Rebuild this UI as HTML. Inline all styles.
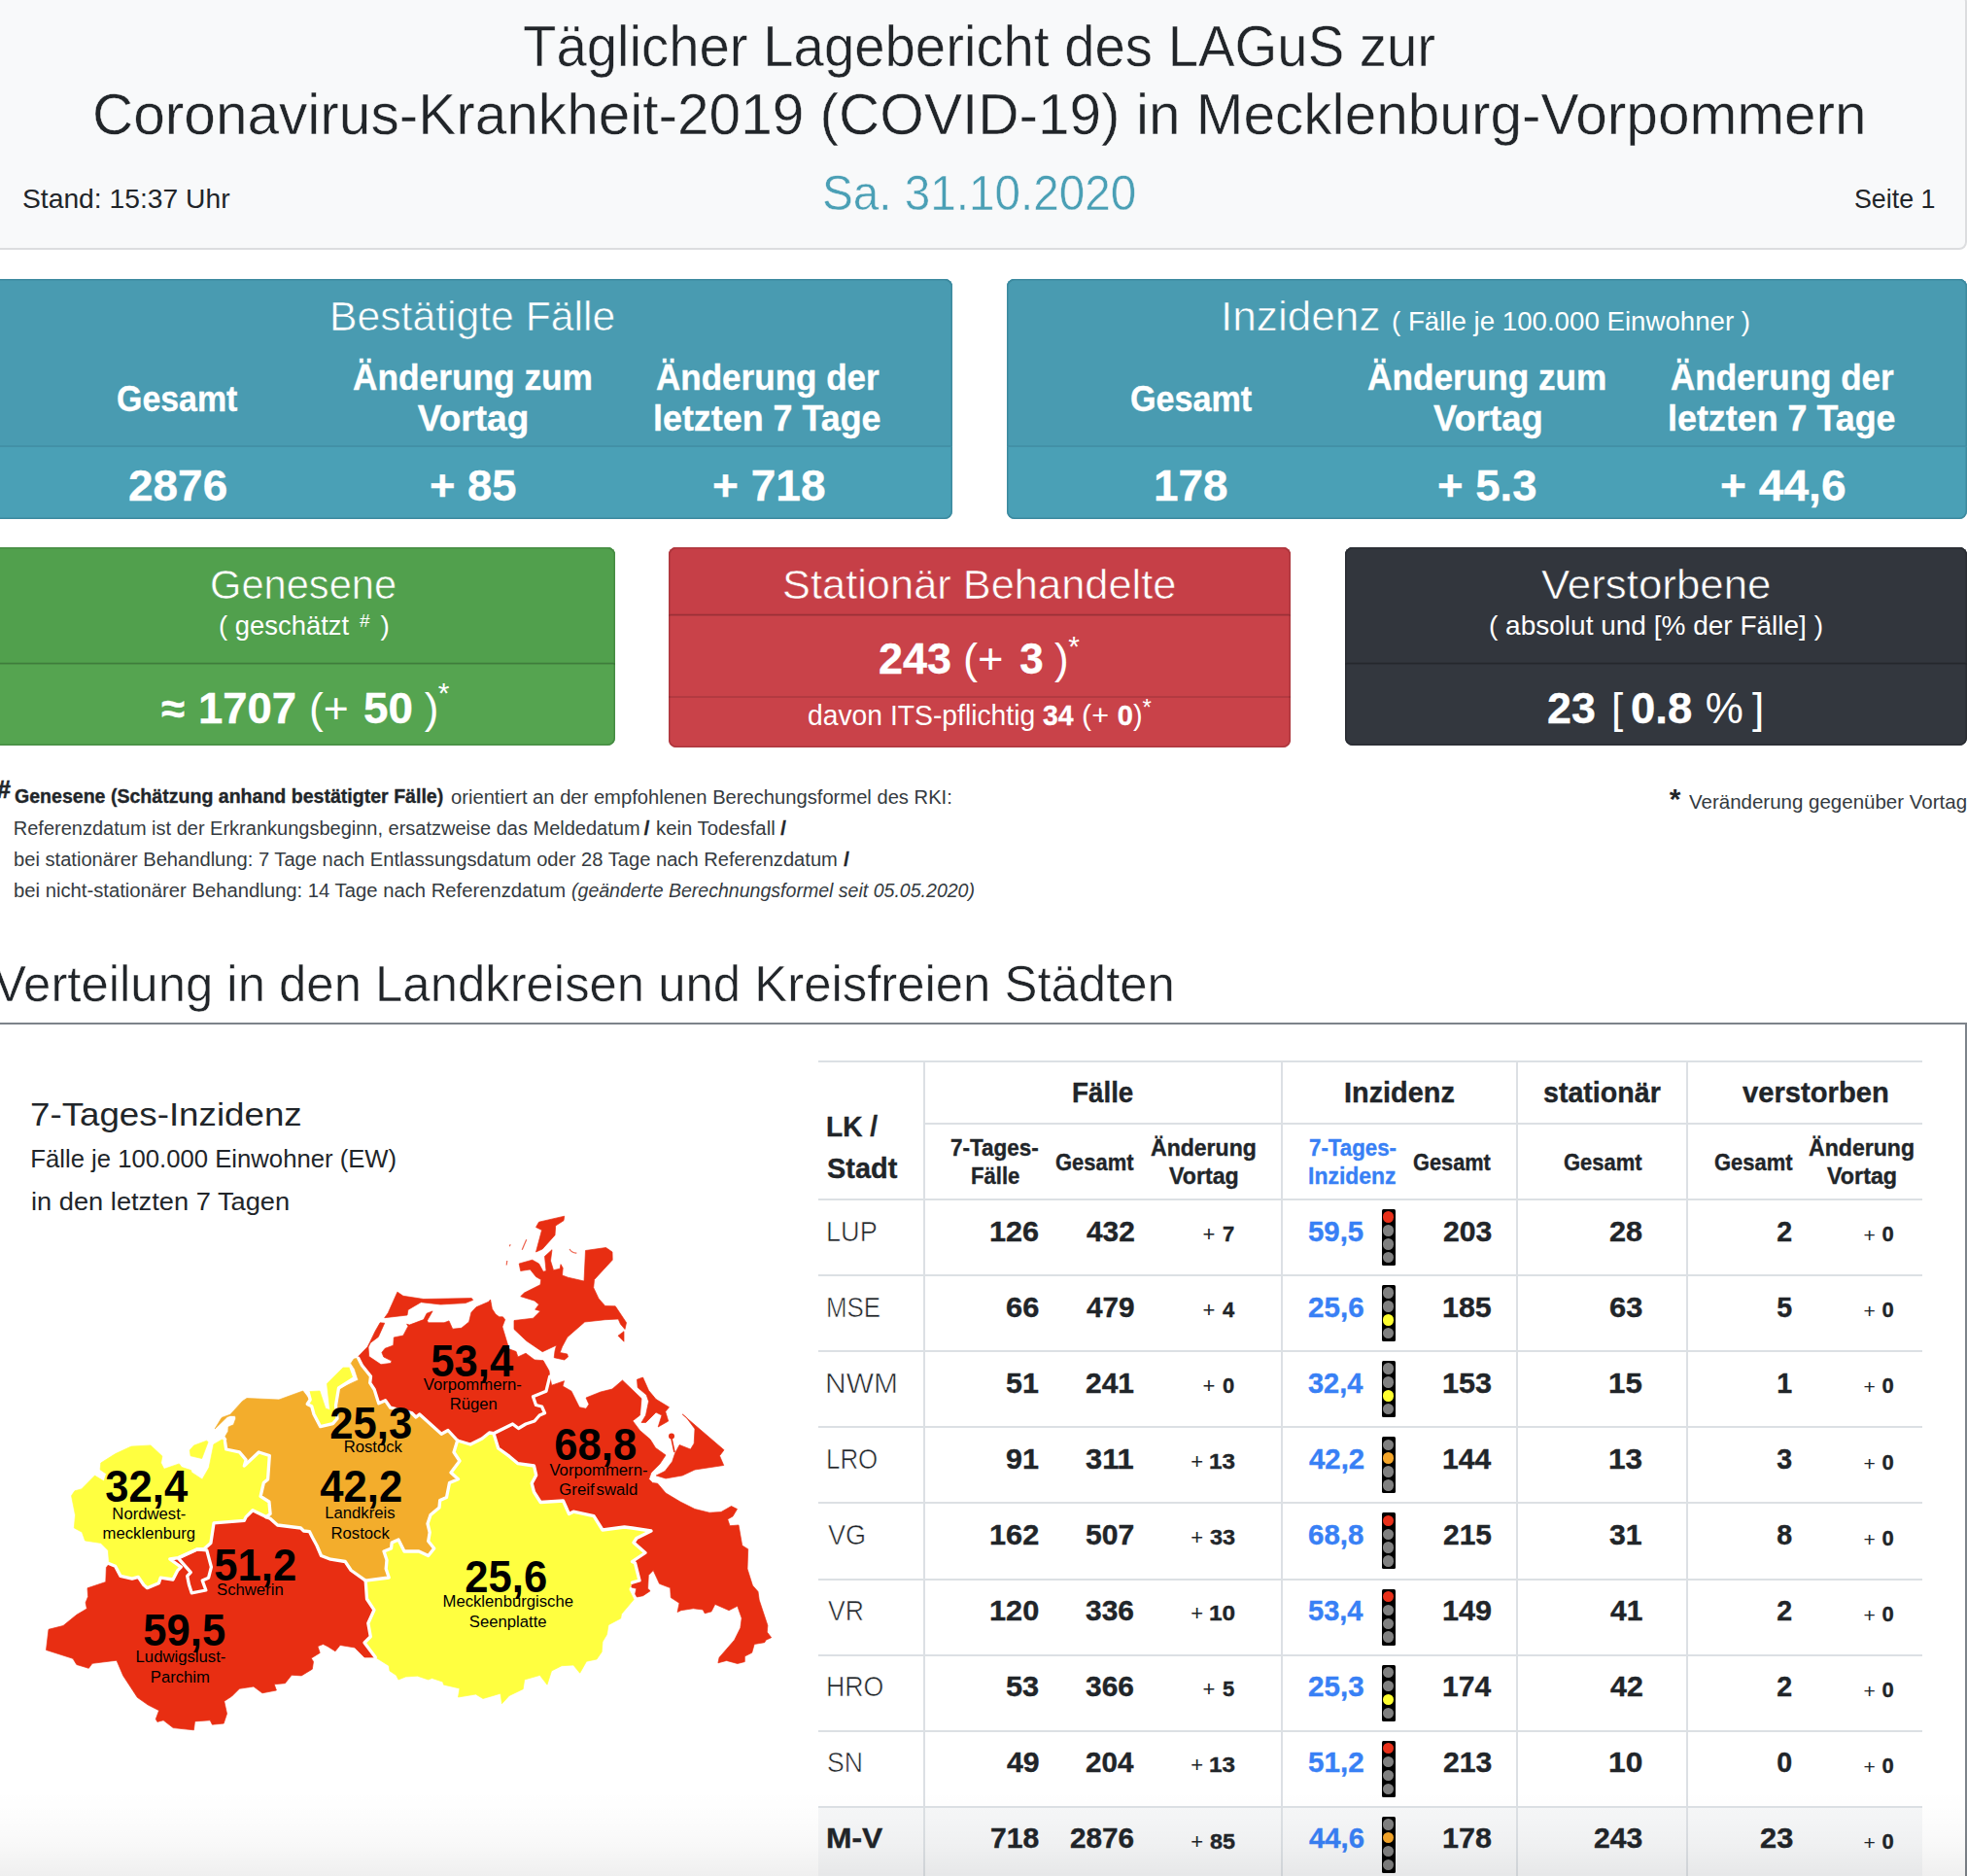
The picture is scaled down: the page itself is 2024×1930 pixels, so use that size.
<!DOCTYPE html>
<html lang="de"><head><meta charset="utf-8"><title>Lagebericht</title>
<style>
html,body{margin:0;padding:0;background:#fff;}
body{width:2024px;height:1930px;position:relative;overflow:hidden;font-family:"Liberation Sans",sans-serif;}
.t{position:absolute;white-space:nowrap;line-height:1;transform-origin:0 50%;}
</style></head><body>
<div style="position:absolute;left:-8.00px;top:-6.00px;width:2031.50px;height:262.50px;background:#f8f9fa;border:2px solid #dcdddf;border-radius:8px;box-sizing:border-box;"></div>
<div class="t" style="left:538.17px;top:18.95px;font-size:58.30px;transform:scaleX(0.9660);-webkit-text-stroke:0.50px #f8f9fa;color:#212529;">Täglicher Lagebericht des LAGuS zur</div>
<div class="t" style="left:94.77px;top:88.95px;font-size:58.30px;transform:scaleX(1.0044);-webkit-text-stroke:0.50px #f8f9fa;color:#212529;">Coronavirus-Krankheit-2019 (COVID-19) in Mecklenburg-Vorpommern</div>
<div class="t" style="left:846.16px;top:174.38px;font-size:50.00px;transform:scaleX(0.9527);-webkit-text-stroke:0.50px #f8f9fa;color:#4a9fb5;">Sa. 31.10.2020</div>
<div class="t" style="left:22.73px;top:191.30px;font-size:28.00px;transform:scaleX(1.0089);color:#212529;">Stand: 15:37 Uhr</div>
<div class="t" style="left:1908.09px;top:191.30px;font-size:28.00px;transform:scaleX(0.9567);color:#212529;">Seite 1</div>
<div style="position:absolute;left:-8.00px;top:286.50px;width:988.00px;height:247.00px;background:#4aa0b6;border-radius:8px;box-shadow:inset 0 0 0 1.5px #3d8a9f;"></div>
<div style="position:absolute;left:-8.00px;top:286.50px;width:988.00px;height:173.00px;background:#499bb1;border-radius:8px 8px 0 0;box-shadow:inset 0 0 0 1.5px #3d8a9f;"></div>
<div style="position:absolute;left:-8.00px;top:458.70px;width:988.00px;height:1.80px;background:#4290a6;"></div>
<div style="position:absolute;left:1035.70px;top:286.50px;width:988.00px;height:247.00px;background:#4aa0b6;border-radius:8px;box-shadow:inset 0 0 0 1.5px #3d8a9f;"></div>
<div style="position:absolute;left:1035.70px;top:286.50px;width:988.00px;height:173.00px;background:#499bb1;border-radius:8px 8px 0 0;box-shadow:inset 0 0 0 1.5px #3d8a9f;"></div>
<div style="position:absolute;left:1035.70px;top:458.70px;width:988.00px;height:1.80px;background:#4290a6;"></div>
<div class="t" style="left:339.28px;top:305.45px;font-size:42.00px;transform:scaleX(1.0164);-webkit-text-stroke:0.60px #499bb1;color:#fff;">Bestätigte Fälle</div>
<div class="t" style="left:120.34px;top:391.88px;font-size:37.00px;transform:scaleX(0.9166);font-weight:700;-webkit-text-stroke:0.35px;color:#fff;">Gesamt</div>
<div class="t" style="left:363.42px;top:369.88px;font-size:37.00px;transform:scaleX(0.9537);font-weight:700;-webkit-text-stroke:0.35px;color:#fff;">Änderung zum</div>
<div class="t" style="left:429.82px;top:411.68px;font-size:37.00px;font-weight:700;-webkit-text-stroke:0.35px;color:#fff;">Vortag</div>
<div class="t" style="left:675.12px;top:369.88px;font-size:37.00px;transform:scaleX(0.9471);font-weight:700;-webkit-text-stroke:0.35px;color:#fff;">Änderung der</div>
<div class="t" style="left:672.49px;top:411.68px;font-size:37.00px;transform:scaleX(0.9694);font-weight:700;-webkit-text-stroke:0.35px;color:#fff;">letzten 7 Tage</div>
<div class="t" style="left:131.69px;top:477.75px;font-size:44.00px;transform:scaleX(1.0441);font-weight:700;-webkit-text-stroke:0.35px;color:#fff;">2876</div>
<div class="t" style="left:442.48px;top:477.75px;font-size:44.00px;transform:scaleX(1.0317);font-weight:700;-webkit-text-stroke:0.35px;color:#fff;">+ 85</div>
<div class="t" style="left:733.16px;top:477.75px;font-size:44.00px;transform:scaleX(1.0467);font-weight:700;-webkit-text-stroke:0.35px;color:#fff;">+ 718</div>
<div class="t" style="left:1256.03px;top:305.45px;font-size:42.00px;transform:scaleX(1.0513);-webkit-text-stroke:0.60px #499bb1;color:#fff;">Inzidenz</div>
<div class="t" style="left:1431.64px;top:317.30px;font-size:28.00px;transform:scaleX(0.9880);color:#fff;">( Fälle je 100.000 Einwohner )</div>
<div class="t" style="left:1162.93px;top:391.88px;font-size:37.00px;transform:scaleX(0.9226);font-weight:700;-webkit-text-stroke:0.35px;color:#fff;">Gesamt</div>
<div class="t" style="left:1406.82px;top:369.88px;font-size:37.00px;transform:scaleX(0.9509);font-weight:700;-webkit-text-stroke:0.35px;color:#fff;">Änderung zum</div>
<div class="t" style="left:1474.82px;top:411.68px;font-size:37.00px;transform:scaleX(0.9844);font-weight:700;-webkit-text-stroke:0.35px;color:#fff;">Vortag</div>
<div class="t" style="left:1718.82px;top:369.88px;font-size:37.00px;transform:scaleX(0.9471);font-weight:700;-webkit-text-stroke:0.35px;color:#fff;">Änderung der</div>
<div class="t" style="left:1716.19px;top:411.68px;font-size:37.00px;transform:scaleX(0.9694);font-weight:700;-webkit-text-stroke:0.35px;color:#fff;">letzten 7 Tage</div>
<div class="t" style="left:1187.25px;top:477.75px;font-size:44.00px;transform:scaleX(1.0433);font-weight:700;-webkit-text-stroke:0.35px;color:#fff;">178</div>
<div class="t" style="left:1479.18px;top:477.75px;font-size:44.00px;transform:scaleX(1.0345);font-weight:700;-webkit-text-stroke:0.35px;color:#fff;">+ 5.3</div>
<div class="t" style="left:1769.95px;top:477.75px;font-size:44.00px;transform:scaleX(1.0490);font-weight:700;-webkit-text-stroke:0.35px;color:#fff;">+ 44,6</div>
<div style="position:absolute;left:-8.00px;top:563.30px;width:640.50px;height:203.50px;background:#55a450;border-radius:8px;box-shadow:inset 0 0 0 1.5px #468c43;"></div>
<div style="position:absolute;left:-8.00px;top:563.30px;width:640.50px;height:119.40px;background:#51a04d;border-radius:8px 8px 0 0;box-shadow:inset 0 0 0 1.5px #468c43;"></div>
<div style="position:absolute;left:-8.00px;top:681.80px;width:640.50px;height:1.80px;background:rgba(0,0,0,0.11);"></div>
<div class="t" style="left:216.22px;top:581.15px;font-size:42.00px;transform:scaleX(0.9913);-webkit-text-stroke:0.60px #51a04d;color:#fff;">Genesene</div>
<div class="t" style="left:225.05px;top:629.60px;font-size:28.00px;transform:scaleX(0.9793);color:#fff;">( geschätzt</div>
<div class="t" style="left:370.00px;top:628.92px;font-size:19.00px;color:#fff;">#</div>
<div class="t" style="left:391.50px;top:629.60px;font-size:28.00px;color:#fff;">)</div>
<div class="t" style="left:166.00px;top:706.75px;font-size:44.00px;font-weight:700;-webkit-text-stroke:0.35px;color:#fff;">≈</div>
<div class="t" style="left:203.97px;top:706.75px;font-size:44.00px;transform:scaleX(1.0332);font-weight:700;-webkit-text-stroke:0.35px;color:#fff;">1707</div>
<div class="t" style="left:318.03px;top:706.75px;font-size:44.00px;transform:scaleX(1.0101);color:#fff;">(+</div>
<div class="t" style="left:374.33px;top:706.75px;font-size:44.00px;transform:scaleX(1.0402);font-weight:700;-webkit-text-stroke:0.35px;color:#fff;">50</div>
<div class="t" style="left:436.70px;top:706.75px;font-size:44.00px;color:#fff;">)</div>
<div class="t" style="left:450.70px;top:697.61px;font-size:30.00px;color:#fff;">*</div>
<div style="position:absolute;left:687.70px;top:563.30px;width:640.60px;height:206.00px;background:#c94249;border-radius:8px;box-shadow:inset 0 0 0 1.5px #ad373e;"></div>
<div style="position:absolute;left:687.70px;top:563.30px;width:640.60px;height:70.00px;background:#c63f47;border-radius:8px 8px 0 0;box-shadow:inset 0 0 0 1.5px #ad373e;"></div>
<div style="position:absolute;left:687.70px;top:632.40px;width:640.60px;height:1.80px;background:rgba(0,0,0,0.11);"></div>
<div style="position:absolute;left:687.70px;top:716.40px;width:640.60px;height:1.80px;background:rgba(0,0,0,0.11);"></div>
<div class="t" style="left:805.35px;top:581.15px;font-size:42.00px;transform:scaleX(1.0334);-webkit-text-stroke:0.60px #c63f47;color:#fff;">Stationär Behandelte</div>
<div class="t" style="left:904.43px;top:655.75px;font-size:44.00px;transform:scaleX(1.0217);font-weight:700;-webkit-text-stroke:0.35px;color:#fff;">243</div>
<div class="t" style="left:991.28px;top:655.75px;font-size:44.00px;transform:scaleX(1.0297);color:#fff;">(+</div>
<div class="t" style="left:1049.30px;top:655.75px;font-size:44.00px;font-weight:700;-webkit-text-stroke:0.35px;color:#fff;">3</div>
<div class="t" style="left:1085.00px;top:655.75px;font-size:44.00px;color:#fff;">)</div>
<div class="t" style="left:1099.30px;top:649.61px;font-size:30.00px;color:#fff;">*</div>
<div class="t" style="left:830.57px;top:722.15px;font-size:29.00px;transform:scaleX(0.9750);color:#fff;">davon ITS-pflichtig</div>
<div class="t" style="left:1072.99px;top:722.15px;font-size:29.00px;transform:scaleX(0.9770);font-weight:700;-webkit-text-stroke:0.35px;color:#fff;">34</div>
<div class="t" style="left:1113.17px;top:722.15px;font-size:29.00px;transform:scaleX(1.0515);color:#fff;">(+</div>
<div class="t" style="left:1149.70px;top:722.15px;font-size:29.00px;font-weight:700;-webkit-text-stroke:0.35px;color:#fff;">0</div>
<div class="t" style="left:1166.00px;top:722.15px;font-size:29.00px;color:#fff;">)</div>
<div class="t" style="left:1175.50px;top:715.68px;font-size:24.00px;color:#fff;">*</div>
<div style="position:absolute;left:1383.70px;top:563.30px;width:640.00px;height:203.50px;background:#33373e;border-radius:8px;box-shadow:inset 0 0 0 1.5px #2a2d33;"></div>
<div style="position:absolute;left:1383.70px;top:563.30px;width:640.00px;height:119.40px;background:#32363d;border-radius:8px 8px 0 0;box-shadow:inset 0 0 0 1.5px #2a2d33;"></div>
<div style="position:absolute;left:1383.70px;top:681.80px;width:640.00px;height:1.80px;background:rgba(0,0,0,0.11);"></div>
<div class="t" style="left:1586.08px;top:581.15px;font-size:42.00px;transform:scaleX(1.0441);-webkit-text-stroke:0.60px #32363d;color:#fff;">Verstorbene</div>
<div class="t" style="left:1532.02px;top:629.60px;font-size:28.00px;color:#fff;">( absolut und [% der Fälle] )</div>
<div class="t" style="left:1592.13px;top:706.75px;font-size:44.00px;transform:scaleX(1.0184);font-weight:700;-webkit-text-stroke:0.35px;color:#fff;">23</div>
<div class="t" style="left:1658.00px;top:706.75px;font-size:44.00px;color:#fff;">[</div>
<div class="t" style="left:1677.88px;top:706.75px;font-size:44.00px;transform:scaleX(1.0331);font-weight:700;-webkit-text-stroke:0.35px;color:#fff;">0.8</div>
<div class="t" style="left:1754.70px;top:706.75px;font-size:44.00px;color:#fff;">%</div>
<div class="t" style="left:1803.00px;top:706.75px;font-size:44.00px;color:#fff;">]</div>
<div class="t" style="left:-3.30px;top:800.41px;font-size:25.50px;font-weight:700;-webkit-text-stroke:0.60px;color:#212529;">#</div>
<div class="t" style="left:14.62px;top:808.85px;font-size:20.50px;transform:scaleX(0.9541);font-weight:700;-webkit-text-stroke:0.35px;color:#212529;">Genesene (Schätzung anhand bestätigter Fälle)</div>
<div class="t" style="left:464.19px;top:809.77px;font-size:20.00px;transform:scaleX(1.0086);color:#343a40;">orientiert an der empfohlenen Berechungsformel des RKI:</div>
<div class="t" style="left:13.81px;top:841.97px;font-size:20.00px;color:#343a40;">Referenzdatum ist der Erkrankungsbeginn, ersatzweise das Meldedatum</div>
<div class="t" style="left:662.70px;top:841.97px;font-size:20.00px;font-weight:700;-webkit-text-stroke:0.35px;color:#212529;">/</div>
<div class="t" style="left:675.38px;top:841.97px;font-size:20.00px;transform:scaleX(1.0152);color:#343a40;">kein Todesfall</div>
<div class="t" style="left:803.30px;top:841.97px;font-size:20.00px;font-weight:700;-webkit-text-stroke:0.35px;color:#212529;">/</div>
<div class="t" style="left:14.09px;top:874.17px;font-size:20.00px;transform:scaleX(1.0069);color:#343a40;">bei stationärer Behandlung: 7 Tage nach Entlassungsdatum oder 28 Tage nach Referenzdatum</div>
<div class="t" style="left:868.30px;top:874.17px;font-size:20.00px;font-weight:700;-webkit-text-stroke:0.35px;color:#212529;">/</div>
<div class="t" style="left:14.08px;top:906.37px;font-size:20.00px;transform:scaleX(1.0125);color:#343a40;">bei nicht-stationärer Behandlung: 14 Tage nach Referenzdatum</div>
<div class="t" style="left:588.42px;top:906.37px;font-size:20.00px;transform:scaleX(0.9771);font-style:italic;color:#343a40;">(geänderte Berechnungsformel seit 05.05.2020)</div>
<div class="t" style="left:1717.70px;top:807.11px;font-size:30.00px;font-weight:700;color:#212529;">*</div>
<div class="t" style="left:1737.90px;top:814.22px;font-size:21.00px;transform:scaleX(0.9760);color:#343a40;">Veränderung gegenüber Vortag</div>
<div class="t" style="left:-6.75px;top:985.98px;font-size:52.00px;transform:scaleX(0.9781);-webkit-text-stroke:0.50px #fff;color:#212529;">Verteilung in den Landkreisen und Kreisfreien Städten</div>
<div style="position:absolute;left:-8.00px;top:1052.30px;width:2031.60px;height:900.00px;border:2px solid #7d838a;box-sizing:border-box;background:#fff;"></div>
<div class="t" style="left:31.46px;top:1128.92px;font-size:34.00px;transform:scaleX(1.0802);color:#212529;">7-Tages-Inzidenz</div>
<div class="t" style="left:31.24px;top:1179.94px;font-size:25.70px;color:#212529;">Fälle je 100.000 Einwohner (EW)</div>
<div class="t" style="left:31.53px;top:1224.24px;font-size:25.70px;transform:scaleX(1.0609);color:#212529;">in den letzten 7 Tagen</div>
<div style="position:absolute;left:841.70px;top:1858.80px;width:1136.30px;height:80.00px;background:#f6f7f8;"></div>
<div style="position:absolute;left:841.70px;top:1091.00px;width:1136.30px;height:2.00px;background:#dce0e4;"></div>
<div style="position:absolute;left:951.00px;top:1155.00px;width:1027.00px;height:2.00px;background:#dce0e4;"></div>
<div style="position:absolute;left:841.70px;top:1233.00px;width:1136.30px;height:2.00px;background:#dce0e4;"></div>
<div style="position:absolute;left:841.70px;top:1311.00px;width:1136.30px;height:2.00px;background:#dce0e4;"></div>
<div style="position:absolute;left:841.70px;top:1389.00px;width:1136.30px;height:2.00px;background:#dce0e4;"></div>
<div style="position:absolute;left:841.70px;top:1467.00px;width:1136.30px;height:2.00px;background:#dce0e4;"></div>
<div style="position:absolute;left:841.70px;top:1545.00px;width:1136.30px;height:2.00px;background:#dce0e4;"></div>
<div style="position:absolute;left:841.70px;top:1624.00px;width:1136.30px;height:2.00px;background:#dce0e4;"></div>
<div style="position:absolute;left:841.70px;top:1702.00px;width:1136.30px;height:2.00px;background:#dce0e4;"></div>
<div style="position:absolute;left:841.70px;top:1780.00px;width:1136.30px;height:2.00px;background:#dce0e4;"></div>
<div style="position:absolute;left:841.70px;top:1858.00px;width:1136.30px;height:2.00px;background:#dce0e4;"></div>
<div style="position:absolute;left:950.00px;top:1091.00px;width:2.00px;height:850.00px;background:#dce0e4;"></div>
<div style="position:absolute;left:1318.00px;top:1091.00px;width:2.00px;height:850.00px;background:#dce0e4;"></div>
<div style="position:absolute;left:1560.00px;top:1091.00px;width:2.00px;height:850.00px;background:#dce0e4;"></div>
<div style="position:absolute;left:1735.00px;top:1091.00px;width:2.00px;height:850.00px;background:#dce0e4;"></div>
<div class="t" style="left:849.87px;top:1145.09px;font-size:28.60px;transform:scaleX(0.9825);font-weight:700;-webkit-text-stroke:0.35px;color:#212529;">LK /</div>
<div class="t" style="left:850.83px;top:1188.49px;font-size:28.60px;transform:scaleX(1.0112);font-weight:700;-webkit-text-stroke:0.35px;color:#212529;">Stadt</div>
<div class="t" style="left:1103.49px;top:1110.09px;font-size:28.60px;transform:scaleX(0.9713);font-weight:700;-webkit-text-stroke:0.35px;color:#212529;">Fälle</div>
<div class="t" style="left:1382.82px;top:1110.09px;font-size:28.60px;transform:scaleX(1.0094);font-weight:700;-webkit-text-stroke:0.35px;color:#212529;">Inzidenz</div>
<div class="t" style="left:1588.00px;top:1110.09px;font-size:28.60px;font-weight:700;-webkit-text-stroke:0.35px;color:#212529;">stationär</div>
<div class="t" style="left:1792.85px;top:1110.09px;font-size:28.60px;transform:scaleX(1.0205);font-weight:700;-webkit-text-stroke:0.35px;color:#212529;">verstorben</div>
<div class="t" style="left:978.40px;top:1169.15px;font-size:23.80px;transform:scaleX(0.9443);font-weight:700;-webkit-text-stroke:0.35px;color:#212529;">7-Tages-</div>
<div class="t" style="left:998.56px;top:1197.55px;font-size:23.80px;transform:scaleX(0.9288);font-weight:700;-webkit-text-stroke:0.35px;color:#212529;">Fälle</div>
<div class="t" style="left:1085.82px;top:1183.85px;font-size:23.80px;transform:scaleX(0.9217);font-weight:700;-webkit-text-stroke:0.35px;color:#212529;">Gesamt</div>
<div class="t" style="left:1183.72px;top:1169.15px;font-size:23.80px;transform:scaleX(0.9683);font-weight:700;-webkit-text-stroke:0.35px;color:#212529;">Änderung</div>
<div class="t" style="left:1202.58px;top:1197.55px;font-size:23.80px;transform:scaleX(0.9739);font-weight:700;-webkit-text-stroke:0.35px;color:#212529;">Vortag</div>
<div class="t" style="left:1346.81px;top:1169.15px;font-size:23.80px;transform:scaleX(0.9369);font-weight:700;-webkit-text-stroke:0.35px;color:#3880f5;">7-Tages-</div>
<div class="t" style="left:1346.21px;top:1197.55px;font-size:23.80px;transform:scaleX(0.9649);font-weight:700;-webkit-text-stroke:0.35px;color:#3880f5;">Inzidenz</div>
<div class="t" style="left:1454.43px;top:1183.85px;font-size:23.80px;transform:scaleX(0.9147);font-weight:700;-webkit-text-stroke:0.35px;color:#212529;">Gesamt</div>
<div class="t" style="left:1609.42px;top:1183.85px;font-size:23.80px;transform:scaleX(0.9229);font-weight:700;-webkit-text-stroke:0.35px;color:#212529;">Gesamt</div>
<div class="t" style="left:1763.82px;top:1183.85px;font-size:23.80px;transform:scaleX(0.9217);font-weight:700;-webkit-text-stroke:0.35px;color:#212529;">Gesamt</div>
<div class="t" style="left:1861.42px;top:1169.15px;font-size:23.80px;transform:scaleX(0.9710);font-weight:700;-webkit-text-stroke:0.35px;color:#212529;">Änderung</div>
<div class="t" style="left:1880.18px;top:1197.55px;font-size:23.80px;transform:scaleX(0.9795);font-weight:700;-webkit-text-stroke:0.35px;color:#212529;">Vortag</div>
<div class="t" style="left:849.53px;top:1252.59px;font-size:28.60px;transform:scaleX(0.9497);-webkit-text-stroke:0.60px #fff;color:#212529;">LUP</div>
<div class="t" style="left:1018.42px;top:1252.59px;font-size:28.60px;transform:scaleX(1.0701);font-weight:700;-webkit-text-stroke:0.35px;color:#212529;">126</div>
<div class="t" style="left:1117.50px;top:1252.59px;font-size:28.60px;transform:scaleX(1.0435);font-weight:700;-webkit-text-stroke:0.35px;color:#212529;">432</div>
<div class="t" style="left:1257.98px;top:1258.78px;font-size:22.00px;font-weight:700;-webkit-text-stroke:0.35px;color:#212529;">7</div>
<div class="t" style="left:1237.48px;top:1258.78px;font-size:22.00px;color:#212529;">+</div>
<div class="t" style="left:1346.34px;top:1252.59px;font-size:28.60px;transform:scaleX(1.0265);font-weight:700;-webkit-text-stroke:0.35px;color:#3880f5;">59,5</div>
<div style="position:absolute;left:1421.50px;top:1244.00px;width:14.50px;height:58.00px;background:#000;border-radius:1.5px;"></div>
<div style="position:absolute;left:1422.85px;top:1246.25px;width:11.50px;height:11.50px;background:#e8301a;border-radius:50%;"></div>
<div style="position:absolute;left:1422.85px;top:1260.15px;width:11.50px;height:11.50px;background:#808080;border-radius:50%;"></div>
<div style="position:absolute;left:1422.85px;top:1274.05px;width:11.50px;height:11.50px;background:#808080;border-radius:50%;"></div>
<div style="position:absolute;left:1422.85px;top:1287.95px;width:11.50px;height:11.50px;background:#808080;border-radius:50%;"></div>
<div class="t" style="left:1484.60px;top:1252.59px;font-size:28.60px;transform:scaleX(1.0533);font-weight:700;-webkit-text-stroke:0.35px;color:#212529;">203</div>
<div class="t" style="left:1655.90px;top:1252.59px;font-size:28.60px;transform:scaleX(1.0718);font-weight:700;-webkit-text-stroke:0.35px;color:#212529;">28</div>
<div class="t" style="left:1828.18px;top:1252.59px;font-size:28.60px;font-weight:700;-webkit-text-stroke:0.35px;color:#212529;">2</div>
<div class="t" style="left:1936.48px;top:1259.48px;font-size:22.00px;font-weight:700;-webkit-text-stroke:0.35px;color:#212529;">0</div>
<div class="t" style="left:1917.50px;top:1260.32px;font-size:21.00px;color:#212529;">+</div>
<div class="t" style="left:849.63px;top:1330.59px;font-size:28.60px;transform:scaleX(0.9062);-webkit-text-stroke:0.60px #fff;color:#212529;">MSE</div>
<div class="t" style="left:1035.19px;top:1330.59px;font-size:28.60px;transform:scaleX(1.0769);font-weight:700;-webkit-text-stroke:0.35px;color:#212529;">66</div>
<div class="t" style="left:1117.51px;top:1330.59px;font-size:28.60px;transform:scaleX(1.0402);font-weight:700;-webkit-text-stroke:0.35px;color:#212529;">479</div>
<div class="t" style="left:1257.98px;top:1336.78px;font-size:22.00px;font-weight:700;-webkit-text-stroke:0.35px;color:#212529;">4</div>
<div class="t" style="left:1237.48px;top:1336.78px;font-size:22.00px;color:#212529;">+</div>
<div class="t" style="left:1346.18px;top:1330.59px;font-size:28.60px;transform:scaleX(1.0347);font-weight:700;-webkit-text-stroke:0.35px;color:#3880f5;">25,6</div>
<div style="position:absolute;left:1421.50px;top:1322.00px;width:14.50px;height:58.00px;background:#000;border-radius:1.5px;"></div>
<div style="position:absolute;left:1422.85px;top:1324.25px;width:11.50px;height:11.50px;background:#808080;border-radius:50%;"></div>
<div style="position:absolute;left:1422.85px;top:1338.15px;width:11.50px;height:11.50px;background:#808080;border-radius:50%;"></div>
<div style="position:absolute;left:1422.85px;top:1352.05px;width:11.50px;height:11.50px;background:#ffff30;border-radius:50%;"></div>
<div style="position:absolute;left:1422.85px;top:1365.95px;width:11.50px;height:11.50px;background:#808080;border-radius:50%;"></div>
<div class="t" style="left:1483.83px;top:1330.59px;font-size:28.60px;transform:scaleX(1.0633);font-weight:700;-webkit-text-stroke:0.35px;color:#212529;">185</div>
<div class="t" style="left:1655.89px;top:1330.59px;font-size:28.60px;transform:scaleX(1.0769);font-weight:700;-webkit-text-stroke:0.35px;color:#212529;">63</div>
<div class="t" style="left:1828.18px;top:1330.59px;font-size:28.60px;font-weight:700;-webkit-text-stroke:0.35px;color:#212529;">5</div>
<div class="t" style="left:1936.48px;top:1337.48px;font-size:22.00px;font-weight:700;-webkit-text-stroke:0.35px;color:#212529;">0</div>
<div class="t" style="left:1917.50px;top:1338.32px;font-size:21.00px;color:#212529;">+</div>
<div class="t" style="left:849.30px;top:1408.59px;font-size:28.60px;transform:scaleX(1.0482);-webkit-text-stroke:0.60px #fff;color:#212529;">NWM</div>
<div class="t" style="left:1035.36px;top:1408.59px;font-size:28.60px;transform:scaleX(1.0616);font-weight:700;-webkit-text-stroke:0.35px;color:#212529;">51</div>
<div class="t" style="left:1116.90px;top:1408.59px;font-size:28.60px;transform:scaleX(1.0467);font-weight:700;-webkit-text-stroke:0.35px;color:#212529;">241</div>
<div class="t" style="left:1257.98px;top:1414.78px;font-size:22.00px;font-weight:700;-webkit-text-stroke:0.35px;color:#212529;">0</div>
<div class="t" style="left:1237.48px;top:1414.78px;font-size:22.00px;color:#212529;">+</div>
<div class="t" style="left:1346.49px;top:1408.59px;font-size:28.60px;transform:scaleX(1.0131);font-weight:700;-webkit-text-stroke:0.35px;color:#3880f5;">32,4</div>
<div style="position:absolute;left:1421.50px;top:1400.00px;width:14.50px;height:58.00px;background:#000;border-radius:1.5px;"></div>
<div style="position:absolute;left:1422.85px;top:1402.25px;width:11.50px;height:11.50px;background:#808080;border-radius:50%;"></div>
<div style="position:absolute;left:1422.85px;top:1416.15px;width:11.50px;height:11.50px;background:#808080;border-radius:50%;"></div>
<div style="position:absolute;left:1422.85px;top:1430.05px;width:11.50px;height:11.50px;background:#ffff30;border-radius:50%;"></div>
<div style="position:absolute;left:1422.85px;top:1443.95px;width:11.50px;height:11.50px;background:#808080;border-radius:50%;"></div>
<div class="t" style="left:1483.82px;top:1408.59px;font-size:28.60px;transform:scaleX(1.0701);font-weight:700;-webkit-text-stroke:0.35px;color:#212529;">153</div>
<div class="t" style="left:1655.09px;top:1408.59px;font-size:28.60px;transform:scaleX(1.0927);font-weight:700;-webkit-text-stroke:0.35px;color:#212529;">15</div>
<div class="t" style="left:1828.18px;top:1408.59px;font-size:28.60px;font-weight:700;-webkit-text-stroke:0.35px;color:#212529;">1</div>
<div class="t" style="left:1936.48px;top:1415.48px;font-size:22.00px;font-weight:700;-webkit-text-stroke:0.35px;color:#212529;">0</div>
<div class="t" style="left:1917.50px;top:1416.32px;font-size:21.00px;color:#212529;">+</div>
<div class="t" style="left:849.63px;top:1486.89px;font-size:28.60px;transform:scaleX(0.9058);-webkit-text-stroke:0.60px #fff;color:#212529;">LRO</div>
<div class="t" style="left:1035.20px;top:1486.89px;font-size:28.60px;transform:scaleX(1.0667);font-weight:700;-webkit-text-stroke:0.35px;color:#212529;">91</div>
<div class="t" style="left:1117.18px;top:1486.89px;font-size:28.60px;transform:scaleX(1.0769);font-weight:700;-webkit-text-stroke:0.35px;color:#212529;">311</div>
<div class="t" style="left:1244.20px;top:1493.08px;font-size:22.00px;transform:scaleX(1.1034);font-weight:700;-webkit-text-stroke:0.35px;color:#212529;">13</div>
<div class="t" style="left:1225.16px;top:1493.08px;font-size:22.00px;color:#212529;">+</div>
<div class="t" style="left:1346.78px;top:1486.89px;font-size:28.60px;transform:scaleX(1.0265);font-weight:700;-webkit-text-stroke:0.35px;color:#3880f5;">42,2</div>
<div style="position:absolute;left:1421.50px;top:1478.30px;width:14.50px;height:58.00px;background:#000;border-radius:1.5px;"></div>
<div style="position:absolute;left:1422.85px;top:1480.55px;width:11.50px;height:11.50px;background:#808080;border-radius:50%;"></div>
<div style="position:absolute;left:1422.85px;top:1494.45px;width:11.50px;height:11.50px;background:#f5a62a;border-radius:50%;"></div>
<div style="position:absolute;left:1422.85px;top:1508.35px;width:11.50px;height:11.50px;background:#808080;border-radius:50%;"></div>
<div style="position:absolute;left:1422.85px;top:1522.25px;width:11.50px;height:11.50px;background:#808080;border-radius:50%;"></div>
<div class="t" style="left:1483.85px;top:1486.89px;font-size:28.60px;transform:scaleX(1.0500);font-weight:700;-webkit-text-stroke:0.35px;color:#212529;">144</div>
<div class="t" style="left:1655.07px;top:1486.89px;font-size:28.60px;transform:scaleX(1.1034);font-weight:700;-webkit-text-stroke:0.35px;color:#212529;">13</div>
<div class="t" style="left:1828.18px;top:1486.89px;font-size:28.60px;font-weight:700;-webkit-text-stroke:0.35px;color:#212529;">3</div>
<div class="t" style="left:1936.48px;top:1493.78px;font-size:22.00px;font-weight:700;-webkit-text-stroke:0.35px;color:#212529;">0</div>
<div class="t" style="left:1917.50px;top:1494.62px;font-size:21.00px;color:#212529;">+</div>
<div class="t" style="left:851.56px;top:1564.99px;font-size:28.60px;transform:scaleX(0.9478);-webkit-text-stroke:0.60px #fff;color:#212529;">VG</div>
<div class="t" style="left:1018.41px;top:1564.99px;font-size:28.60px;transform:scaleX(1.0735);font-weight:700;-webkit-text-stroke:0.35px;color:#212529;">162</div>
<div class="t" style="left:1117.05px;top:1564.99px;font-size:28.60px;transform:scaleX(1.0533);font-weight:700;-webkit-text-stroke:0.35px;color:#212529;">507</div>
<div class="t" style="left:1245.07px;top:1571.18px;font-size:22.00px;transform:scaleX(1.0667);font-weight:700;-webkit-text-stroke:0.35px;color:#212529;">33</div>
<div class="t" style="left:1225.16px;top:1571.18px;font-size:22.00px;color:#212529;">+</div>
<div class="t" style="left:1346.18px;top:1564.99px;font-size:28.60px;transform:scaleX(1.0319);font-weight:700;-webkit-text-stroke:0.35px;color:#3880f5;">68,8</div>
<div style="position:absolute;left:1421.50px;top:1556.40px;width:14.50px;height:58.00px;background:#000;border-radius:1.5px;"></div>
<div style="position:absolute;left:1422.85px;top:1558.65px;width:11.50px;height:11.50px;background:#e8301a;border-radius:50%;"></div>
<div style="position:absolute;left:1422.85px;top:1572.55px;width:11.50px;height:11.50px;background:#808080;border-radius:50%;"></div>
<div style="position:absolute;left:1422.85px;top:1586.45px;width:11.50px;height:11.50px;background:#808080;border-radius:50%;"></div>
<div style="position:absolute;left:1422.85px;top:1600.35px;width:11.50px;height:11.50px;background:#808080;border-radius:50%;"></div>
<div class="t" style="left:1484.60px;top:1564.99px;font-size:28.60px;transform:scaleX(1.0467);font-weight:700;-webkit-text-stroke:0.35px;color:#212529;">215</div>
<div class="t" style="left:1656.21px;top:1564.99px;font-size:28.60px;transform:scaleX(1.0566);font-weight:700;-webkit-text-stroke:0.35px;color:#212529;">31</div>
<div class="t" style="left:1828.18px;top:1564.99px;font-size:28.60px;font-weight:700;-webkit-text-stroke:0.35px;color:#212529;">8</div>
<div class="t" style="left:1936.48px;top:1571.88px;font-size:22.00px;font-weight:700;-webkit-text-stroke:0.35px;color:#212529;">0</div>
<div class="t" style="left:1917.50px;top:1572.72px;font-size:21.00px;color:#212529;">+</div>
<div class="t" style="left:851.57px;top:1643.09px;font-size:28.60px;transform:scaleX(0.9298);-webkit-text-stroke:0.60px #fff;color:#212529;">VR</div>
<div class="t" style="left:1018.41px;top:1643.09px;font-size:28.60px;transform:scaleX(1.0735);font-weight:700;-webkit-text-stroke:0.35px;color:#212529;">120</div>
<div class="t" style="left:1117.20px;top:1643.09px;font-size:28.60px;transform:scaleX(1.0467);font-weight:700;-webkit-text-stroke:0.35px;color:#212529;">336</div>
<div class="t" style="left:1244.20px;top:1649.28px;font-size:22.00px;transform:scaleX(1.1089);font-weight:700;-webkit-text-stroke:0.35px;color:#212529;">10</div>
<div class="t" style="left:1225.16px;top:1649.28px;font-size:22.00px;color:#212529;">+</div>
<div class="t" style="left:1346.34px;top:1643.09px;font-size:28.60px;transform:scaleX(1.0157);font-weight:700;-webkit-text-stroke:0.35px;color:#3880f5;">53,4</div>
<div style="position:absolute;left:1421.50px;top:1634.50px;width:14.50px;height:58.00px;background:#000;border-radius:1.5px;"></div>
<div style="position:absolute;left:1422.85px;top:1636.75px;width:11.50px;height:11.50px;background:#e8301a;border-radius:50%;"></div>
<div style="position:absolute;left:1422.85px;top:1650.65px;width:11.50px;height:11.50px;background:#808080;border-radius:50%;"></div>
<div style="position:absolute;left:1422.85px;top:1664.55px;width:11.50px;height:11.50px;background:#808080;border-radius:50%;"></div>
<div style="position:absolute;left:1422.85px;top:1678.45px;width:11.50px;height:11.50px;background:#808080;border-radius:50%;"></div>
<div class="t" style="left:1483.82px;top:1643.09px;font-size:28.60px;transform:scaleX(1.0701);font-weight:700;-webkit-text-stroke:0.35px;color:#212529;">149</div>
<div class="t" style="left:1656.52px;top:1643.09px;font-size:28.60px;transform:scaleX(1.0467);font-weight:700;-webkit-text-stroke:0.35px;color:#212529;">41</div>
<div class="t" style="left:1828.18px;top:1643.09px;font-size:28.60px;font-weight:700;-webkit-text-stroke:0.35px;color:#212529;">2</div>
<div class="t" style="left:1936.48px;top:1649.98px;font-size:22.00px;font-weight:700;-webkit-text-stroke:0.35px;color:#212529;">0</div>
<div class="t" style="left:1917.50px;top:1650.82px;font-size:21.00px;color:#212529;">+</div>
<div class="t" style="left:849.56px;top:1721.19px;font-size:28.60px;transform:scaleX(0.9346);-webkit-text-stroke:0.60px #fff;color:#212529;">HRO</div>
<div class="t" style="left:1035.35px;top:1721.19px;font-size:28.60px;transform:scaleX(1.0718);font-weight:700;-webkit-text-stroke:0.35px;color:#212529;">53</div>
<div class="t" style="left:1117.20px;top:1721.19px;font-size:28.60px;transform:scaleX(1.0467);font-weight:700;-webkit-text-stroke:0.35px;color:#212529;">366</div>
<div class="t" style="left:1257.98px;top:1727.38px;font-size:22.00px;font-weight:700;-webkit-text-stroke:0.35px;color:#212529;">5</div>
<div class="t" style="left:1237.48px;top:1727.38px;font-size:22.00px;color:#212529;">+</div>
<div class="t" style="left:1346.18px;top:1721.19px;font-size:28.60px;transform:scaleX(1.0347);font-weight:700;-webkit-text-stroke:0.35px;color:#3880f5;">25,3</div>
<div style="position:absolute;left:1421.50px;top:1712.60px;width:14.50px;height:58.00px;background:#000;border-radius:1.5px;"></div>
<div style="position:absolute;left:1422.85px;top:1714.85px;width:11.50px;height:11.50px;background:#808080;border-radius:50%;"></div>
<div style="position:absolute;left:1422.85px;top:1728.75px;width:11.50px;height:11.50px;background:#808080;border-radius:50%;"></div>
<div style="position:absolute;left:1422.85px;top:1742.65px;width:11.50px;height:11.50px;background:#ffff30;border-radius:50%;"></div>
<div style="position:absolute;left:1422.85px;top:1756.55px;width:11.50px;height:11.50px;background:#808080;border-radius:50%;"></div>
<div class="t" style="left:1483.85px;top:1721.19px;font-size:28.60px;transform:scaleX(1.0500);font-weight:700;-webkit-text-stroke:0.35px;color:#212529;">174</div>
<div class="t" style="left:1656.51px;top:1721.19px;font-size:28.60px;transform:scaleX(1.0616);font-weight:700;-webkit-text-stroke:0.35px;color:#212529;">42</div>
<div class="t" style="left:1828.18px;top:1721.19px;font-size:28.60px;font-weight:700;-webkit-text-stroke:0.35px;color:#212529;">2</div>
<div class="t" style="left:1936.48px;top:1728.08px;font-size:22.00px;font-weight:700;-webkit-text-stroke:0.35px;color:#212529;">0</div>
<div class="t" style="left:1917.50px;top:1728.92px;font-size:21.00px;color:#212529;">+</div>
<div class="t" style="left:850.50px;top:1799.29px;font-size:28.60px;transform:scaleX(0.9296);-webkit-text-stroke:0.60px #fff;color:#212529;">SN</div>
<div class="t" style="left:1035.81px;top:1799.29px;font-size:28.60px;transform:scaleX(1.0566);font-weight:700;-webkit-text-stroke:0.35px;color:#212529;">49</div>
<div class="t" style="left:1116.92px;top:1799.29px;font-size:28.60px;transform:scaleX(1.0338);font-weight:700;-webkit-text-stroke:0.35px;color:#212529;">204</div>
<div class="t" style="left:1244.20px;top:1805.48px;font-size:22.00px;transform:scaleX(1.1034);font-weight:700;-webkit-text-stroke:0.35px;color:#212529;">13</div>
<div class="t" style="left:1225.16px;top:1805.48px;font-size:22.00px;color:#212529;">+</div>
<div class="t" style="left:1346.33px;top:1799.29px;font-size:28.60px;transform:scaleX(1.0347);font-weight:700;-webkit-text-stroke:0.35px;color:#3880f5;">51,2</div>
<div style="position:absolute;left:1421.50px;top:1790.70px;width:14.50px;height:58.00px;background:#000;border-radius:1.5px;"></div>
<div style="position:absolute;left:1422.85px;top:1792.95px;width:11.50px;height:11.50px;background:#e8301a;border-radius:50%;"></div>
<div style="position:absolute;left:1422.85px;top:1806.85px;width:11.50px;height:11.50px;background:#808080;border-radius:50%;"></div>
<div style="position:absolute;left:1422.85px;top:1820.75px;width:11.50px;height:11.50px;background:#808080;border-radius:50%;"></div>
<div style="position:absolute;left:1422.85px;top:1834.65px;width:11.50px;height:11.50px;background:#808080;border-radius:50%;"></div>
<div class="t" style="left:1484.60px;top:1799.29px;font-size:28.60px;transform:scaleX(1.0533);font-weight:700;-webkit-text-stroke:0.35px;color:#212529;">213</div>
<div class="t" style="left:1655.07px;top:1799.29px;font-size:28.60px;transform:scaleX(1.1089);font-weight:700;-webkit-text-stroke:0.35px;color:#212529;">10</div>
<div class="t" style="left:1828.18px;top:1799.29px;font-size:28.60px;font-weight:700;-webkit-text-stroke:0.35px;color:#212529;">0</div>
<div class="t" style="left:1936.48px;top:1806.18px;font-size:22.00px;font-weight:700;-webkit-text-stroke:0.35px;color:#212529;">0</div>
<div class="t" style="left:1917.50px;top:1807.02px;font-size:21.00px;color:#212529;">+</div>
<div class="t" style="left:849.63px;top:1877.39px;font-size:28.60px;transform:scaleX(1.1125);font-weight:700;-webkit-text-stroke:0.35px;color:#212529;">M-V</div>
<div class="t" style="left:1019.05px;top:1877.39px;font-size:28.60px;transform:scaleX(1.0533);font-weight:700;-webkit-text-stroke:0.35px;color:#212529;">718</div>
<div class="t" style="left:1100.90px;top:1877.39px;font-size:28.60px;transform:scaleX(1.0394);font-weight:700;-webkit-text-stroke:0.35px;color:#212529;">2876</div>
<div class="t" style="left:1244.96px;top:1883.58px;font-size:22.00px;transform:scaleX(1.0616);font-weight:700;-webkit-text-stroke:0.35px;color:#212529;">85</div>
<div class="t" style="left:1225.16px;top:1883.58px;font-size:22.00px;color:#212529;">+</div>
<div class="t" style="left:1346.78px;top:1877.39px;font-size:28.60px;transform:scaleX(1.0237);font-weight:700;-webkit-text-stroke:0.35px;color:#3880f5;">44,6</div>
<div style="position:absolute;left:1421.50px;top:1868.80px;width:14.50px;height:58.00px;background:#000;border-radius:1.5px;"></div>
<div style="position:absolute;left:1422.85px;top:1871.05px;width:11.50px;height:11.50px;background:#808080;border-radius:50%;"></div>
<div style="position:absolute;left:1422.85px;top:1884.95px;width:11.50px;height:11.50px;background:#f5a62a;border-radius:50%;"></div>
<div style="position:absolute;left:1422.85px;top:1898.85px;width:11.50px;height:11.50px;background:#808080;border-radius:50%;"></div>
<div style="position:absolute;left:1422.85px;top:1912.75px;width:11.50px;height:11.50px;background:#808080;border-radius:50%;"></div>
<div class="t" style="left:1483.82px;top:1877.39px;font-size:28.60px;transform:scaleX(1.0667);font-weight:700;-webkit-text-stroke:0.35px;color:#212529;">178</div>
<div class="t" style="left:1639.90px;top:1877.39px;font-size:28.60px;transform:scaleX(1.0533);font-weight:700;-webkit-text-stroke:0.35px;color:#212529;">243</div>
<div class="t" style="left:1811.09px;top:1877.39px;font-size:28.60px;transform:scaleX(1.0769);font-weight:700;-webkit-text-stroke:0.35px;color:#212529;">23</div>
<div class="t" style="left:1936.48px;top:1884.28px;font-size:22.00px;font-weight:700;-webkit-text-stroke:0.35px;color:#212529;">0</div>
<div class="t" style="left:1917.50px;top:1885.12px;font-size:21.00px;color:#212529;">+</div>
<svg style="position:absolute;left:0;top:0" width="2024" height="1930" viewBox="0 0 2024 1930"><polygon points="112.5,1608.8 109.4,1612.5 108.8,1627.5 90.0,1633.8 90.6,1642.5 88.1,1648.8 89.4,1655.0 78.8,1661.3 65.0,1672.5 50.0,1676.3 47.5,1697.5 75.0,1706.3 78.8,1712.5 91.3,1716.3 95.0,1711.3 120.0,1708.2 126.7,1723.9 141.3,1746.3 152.4,1754.1 163.6,1759.7 160.3,1768.6 161.9,1771.4 168.1,1769.8 178.2,1777.6 199.4,1779.8 200.5,1770.9 216.2,1769.8 218.4,1774.2 230.2,1773.1 233.5,1763.0 230.7,1750.2 238.6,1745.1 246.4,1737.3 260.9,1735.1 269.9,1741.8 284.4,1739.0 282.2,1732.8 293.4,1731.7 300.1,1723.3 310.2,1723.9 321.3,1717.2 322.5,1709.4 320.2,1706.0 329.2,1700.4 326.9,1693.7 332.5,1691.5 337.0,1693.7 345.0,1698.8 350.0,1692.5 365.0,1695.0 375.0,1705.0 386.3,1705.0 375.0,1690.0 381.3,1683.8 378.8,1670.0 385.0,1656.3 377.5,1645.0 376.2,1626.2 361.2,1615.5 355.2,1606.5 340.2,1604.2 330.5,1600.5 326.0,1590.0 321.5,1581.7 318.5,1575.7 312.5,1575.0 309.5,1572.0 285.5,1569.0 278.0,1562.2 273.8,1560.6 260.0,1553.8 253.1,1560.6 251.3,1564.4 220.0,1566.9 216.9,1587.5 210.0,1593.5 202.7,1593.9 183.5,1602.6 174.8,1604.0 186.3,1612.2 182.6,1615.9 178.0,1625.0 165.2,1623.2 163.4,1628.7 151.5,1633.7 147.8,1630.5 142.3,1622.3 135.9,1624.1 124.0,1621.4 118.6,1611.3" fill="#e82e12" stroke="#e82e12" stroke-width="0.7" stroke-linejoin="round"/><polygon points="183.5,1603.1 202.7,1593.9 212.8,1594.9 217.4,1612.2 214.6,1623.2 208.2,1626.0 211.9,1636.0 197.2,1638.8 194.4,1630.0 192.7,1621.4 196.3,1617.7" fill="#e82e12" stroke="#e82e12" stroke-width="0.7" stroke-linejoin="round"/><polygon points="103.8,1505.0 118.8,1495.6 135.0,1488.1 155.0,1486.9 166.9,1498.1 165.6,1505.0 168.8,1511.3 184.3,1505.9 187.0,1509.5 196.6,1512.6 197.1,1514.7 208.1,1521.9 215.1,1509.8 219.9,1485.9 228.4,1481.0 231.5,1483.0 232.7,1491.0 246.3,1493.8 253.1,1501.9 251.3,1508.1 266.3,1494.0 277.3,1497.5 275.6,1521.9 271.3,1525.6 268.1,1539.4 276.9,1545.0 278.1,1557.5 273.8,1560.6 260.0,1553.8 253.1,1560.6 251.3,1564.4 220.0,1566.9 216.9,1587.5 210.0,1593.5 202.7,1593.9 183.5,1602.6 174.8,1604.0 186.3,1612.2 182.6,1615.9 178.0,1625.0 165.2,1623.2 163.4,1628.7 151.5,1633.7 147.8,1630.5 142.3,1622.3 135.9,1624.1 124.0,1621.4 118.6,1611.3 112.5,1608.8 111.3,1595.0 103.8,1587.5 87.5,1585.0 84.4,1576.3 76.3,1571.9 77.5,1558.8 73.5,1538.8 76.9,1533.8 83.8,1531.9 97.5,1518.1 106.9,1523.8 109.4,1516.3 103.1,1511.9" fill="#ffff40" stroke="#ffff40" stroke-width="0.7" stroke-linejoin="round"/><polygon points="195.2,1492.0 199.5,1487.1 212.6,1482.2 214.1,1483.5 207.7,1500.5 196.1,1497.8" fill="#ffff40" stroke="#ffff40" stroke-width="0.7" stroke-linejoin="round"/><polygon points="221.1,1470.0 228.1,1458.4 237.0,1455.2 249.5,1441.4 254.0,1438.5 287.0,1440.0 311.7,1431.0 318.5,1440.0 315.5,1444.5 320.0,1446.7 322.2,1455.0 329.0,1468.5 342.5,1465.5 347.0,1459.5 345.5,1446.0 347.7,1429.5 368.7,1419.7 365.0,1408.5 361.2,1402.5 364.2,1398.0 368.7,1397.2 372.5,1404.7 381.5,1416.0 380.7,1422.7 385.2,1429.5 389.7,1443.7 396.5,1440.7 401.7,1448.2 423.5,1453.5 428.0,1458.0 431.7,1455.0 454.2,1475.2 461.0,1471.5 470.7,1482.0 467.0,1494.0 473.0,1503.0 464.0,1515.0 471.5,1521.7 462.5,1525.5 459.5,1540.5 452.7,1543.5 452.0,1551.0 443.0,1558.5 440.0,1567.5 442.2,1576.5 440.7,1585.5 446.7,1593.0 440.7,1600.5 431.0,1596.0 416.0,1596.0 410.0,1584.0 403.2,1587.0 402.5,1593.0 395.0,1596.0 398.0,1605.0 397.2,1614.0 400.2,1623.0 376.2,1626.2 361.2,1615.5 355.2,1606.5 340.2,1604.2 330.5,1600.5 326.0,1590.0 321.5,1581.7 318.5,1575.7 312.5,1575.0 309.5,1572.0 285.5,1569.0 278.0,1562.2 273.8,1560.6 278.1,1557.5 276.9,1545.0 268.1,1539.4 271.3,1525.6 275.6,1521.9 277.3,1497.5 266.3,1494.0 251.3,1508.1 253.1,1501.9 246.3,1493.8 232.7,1491.0 231.5,1483.0 233.9,1481.0 231.8,1477.7 234.8,1472.5 235.1,1467.9 240.3,1465.8 242.8,1459.0 241.9,1456.6 237.0,1456.4 233.9,1457.6" fill="#f3ad2c" stroke="#f3ad2c" stroke-width="0.7" stroke-linejoin="round"/><polygon points="317.0,1431.7 329.0,1431.0 335.0,1449.0 339.5,1450.5 336.5,1423.5 353.0,1407.0 361.2,1407.0 365.0,1417.5 348.5,1428.0 345.5,1446.0 347.0,1459.5 342.5,1464.7 329.7,1467.7 323.0,1455.0 320.7,1446.7 316.2,1444.5 319.2,1440.0" fill="#ffff40" stroke="#ffff40" stroke-width="0.7" stroke-linejoin="round"/><polygon points="470.7,1482.0 484.0,1486.0 496.0,1480.0 503.5,1474.0 508.0,1474.7 512.7,1490.0 524.0,1498.2 533.0,1505.7 549.5,1508.0 551.7,1517.7 547.2,1526.0 549.5,1535.0 556.2,1545.5 579.5,1544.0 585.5,1557.5 590.0,1555.2 611.0,1559.7 620.0,1574.0 642.5,1571.0 650.5,1572.0 670.0,1575.0 655.0,1582.5 652.0,1587.0 664.0,1597.5 650.5,1606.5 653.5,1608.0 658.0,1626.0 650.5,1628.2 647.0,1635.0 652.2,1645.5 639.5,1660.5 638.7,1665.0 626.0,1671.7 624.5,1681.5 620.0,1689.0 619.2,1699.5 614.0,1707.0 603.5,1709.2 596.7,1721.2 590.0,1713.0 578.0,1713.7 567.5,1719.0 563.0,1733.2 555.5,1723.5 539.7,1728.0 538.2,1737.7 524.0,1744.5 516.5,1752.7 515.0,1742.2 497.0,1747.5 489.5,1743.0 471.5,1746.0 473.0,1737.0 456.5,1733.2 455.7,1730.2 444.5,1726.5 440.7,1728.0 429.5,1724.2 417.5,1725.0 410.0,1728.0 407.7,1723.5 401.0,1719.0 400.2,1713.7 386.3,1705.0 375.0,1690.0 381.3,1683.8 378.8,1670.0 385.0,1656.3 377.5,1645.0 376.2,1626.2 400.2,1623.0 397.2,1614.0 398.0,1605.0 395.0,1596.0 402.5,1593.0 403.2,1587.0 410.0,1584.0 416.0,1596.0 431.0,1596.0 440.7,1600.5 446.7,1593.0 440.7,1585.5 442.2,1576.5 440.0,1567.5 443.0,1558.5 452.0,1551.0 452.7,1543.5 459.5,1540.5 462.5,1525.5 471.5,1521.7 464.0,1515.0 473.0,1503.0 467.0,1494.0" fill="#ffff40" stroke="#ffff40" stroke-width="0.7" stroke-linejoin="round"/><polygon points="565.7,1416.2 567.7,1425.2 580.5,1420.7 579.0,1426.0 588.0,1431.2 596.2,1447.7 603.0,1449.2 606.0,1444.7 603.0,1438.0 618.0,1432.0 630.0,1429.0 640.5,1420.0 660.0,1438.7 658.5,1456.0 651.0,1461.7 658.5,1471.7 669.0,1480.7 674.5,1489.5 685.0,1497.0 679.0,1506.0 670.0,1515.0 667.7,1521.7 671.5,1525.5 676.7,1526.2 685.0,1536.0 700.0,1545.0 715.0,1552.5 730.0,1556.2 742.0,1555.5 752.5,1549.5 758.5,1552.5 754.0,1560.0 748.7,1563.0 751.0,1569.7 760.0,1569.0 763.7,1590.0 769.7,1593.7 769.0,1614.0 774.4,1631.1 780.0,1637.4 781.2,1646.1 789.9,1672.2 789.3,1679.1 793.7,1684.7 788.1,1687.2 786.8,1689.7 776.2,1691.5 773.7,1700.3 766.3,1704.0 766.3,1709.6 758.8,1711.5 747.6,1708.4 738.9,1710.8 740.1,1705.2 755.7,1687.2 761.9,1674.7 763.2,1664.8 758.8,1652.3 750.1,1656.7 735.8,1650.4 732.0,1657.9 725.2,1659.8 723.3,1656.0 713.3,1654.8 700.9,1656.7 697.1,1658.5 699.0,1649.2 690.3,1643.6 689.7,1633.6 678.5,1629.3 672.2,1615.6 667.3,1620.6 666.6,1634.3 669.1,1636.7 661.7,1641.7 655.4,1643.0 653.6,1639.9 654.8,1634.3 649.8,1633.0 650.5,1628.2 658.0,1626.0 653.5,1608.0 650.5,1606.5 664.0,1597.5 652.0,1587.0 655.0,1582.5 670.0,1575.0 650.5,1572.0 642.5,1571.0 620.0,1574.0 611.0,1559.7 590.0,1555.2 585.5,1557.5 579.5,1544.0 556.2,1545.5 549.5,1535.0 547.2,1526.0 551.7,1517.7 549.5,1508.0 533.0,1505.7 524.0,1498.2 512.7,1490.0 508.0,1474.7 527.5,1465.0 533.5,1469.5 541.0,1465.0 550.0,1462.0 555.2,1456.0 560.5,1453.7 557.5,1447.0 551.5,1445.5 548.5,1436.8 562.0,1431.2" fill="#e82e12" stroke="#e82e12" stroke-width="0.7" stroke-linejoin="round"/><polygon points="368.7,1395.5 378.3,1385.5 380.6,1380.9 386.1,1369.5 391.1,1360.8 395.7,1361.2 389.3,1375.4 381.2,1381.5 379.0,1385.9 379.7,1395.5 392.0,1403.8 402.1,1402.4 403.0,1400.1 394.8,1396.0 392.9,1391.4 396.1,1387.3 404.8,1384.1 405.3,1375.9 414.9,1374.0 419.9,1364.4 418.6,1362.2 421.3,1363.1 435.9,1357.6 439.1,1351.2 445.1,1348.9 439.6,1358.5 440.5,1360.8 457.0,1360.8 462.0,1358.9 465.7,1367.2 474.8,1366.3 482.6,1359.9 484.9,1350.3 489.9,1344.8 502.7,1339.3 504.6,1337.0 506.4,1346.6 510.0,1352.1 513.7,1354.8 517.4,1354.8 519.7,1357.6 516.9,1364.9 523.8,1387.8 531.1,1390.5 532.9,1396.0 541.0,1392.2 550.0,1399.0 559.0,1399.7 565.0,1410.2 565.7,1416.2 562.0,1431.2 548.5,1436.8 551.5,1445.5 557.5,1447.0 560.5,1453.7 555.2,1456.0 550.0,1462.0 541.0,1465.0 533.5,1469.5 527.5,1465.0 508.0,1474.7 503.5,1474.0 496.0,1480.0 484.0,1486.0 470.7,1482.0 461.0,1471.5 454.2,1475.2 431.7,1455.0 428.0,1458.0 423.5,1453.5 401.7,1448.2 396.5,1440.7 389.7,1443.7 385.2,1429.5 380.7,1422.7 381.5,1416.0 372.5,1404.7 368.7,1397.2" fill="#e82e12" stroke="#e82e12" stroke-width="0.7" stroke-linejoin="round"/><polygon points="408.9,1329.2 414.9,1333.3 435.9,1336.5 485.3,1335.6 486.7,1337.4 478.9,1340.6 453.3,1342.0 433.2,1339.7 419.9,1347.5 419.0,1353.0 395.7,1355.7 399.3,1350.7" fill="#e82e12" stroke="#e82e12" stroke-width="0.7" stroke-linejoin="round"/><polygon points="529.0,1358.5 548.5,1356.2 556.0,1348.7 550.7,1347.2 554.5,1342.0 550.0,1338.2 535.7,1333.7 539.5,1330.0 556.0,1321.7 556.7,1316.5 551.5,1313.5 545.5,1306.0 535.7,1307.5 534.2,1300.0 547.7,1296.2 554.5,1300.0 559.0,1308.2 562.0,1307.5 560.5,1292.5 568.0,1285.7 566.5,1297.0 569.5,1306.7 576.2,1305.2 577.0,1300.7 579.2,1304.5 578.5,1312.0 584.5,1314.2 601.0,1318.0 602.5,1286.5 623.5,1283.5 630.0,1288.0 630.2,1296.2 611.5,1316.5 610.7,1324.7 616.0,1336.0 622.7,1343.5 633.2,1343.8 644.5,1360.7 643.0,1367.5 638.5,1362.2 636.2,1357.0 622.7,1357.7 601.7,1360.0 583.7,1375.7 578.5,1385.5 576.2,1391.5 583.7,1393.0 584.5,1396.0 580.7,1399.0 570.2,1396.7 571.0,1390.0 572.5,1384.0 558.2,1390.7 541.7,1379.5 529.0,1367.5" fill="#e82e12" stroke="#e82e12" stroke-width="0.7" stroke-linejoin="round"/><polygon points="551.5,1262.5 554.5,1257.2 580.7,1251.2 580.0,1255.7 571.7,1261.0 571.0,1270.7 558.2,1285.0 551.5,1288.0 557.5,1265.5" fill="#e82e12" stroke="#e82e12" stroke-width="0.7" stroke-linejoin="round"/><polygon points="636.0,1374.2 642.0,1369.7 642.0,1380.2" fill="#e82e12" stroke="#e82e12" stroke-width="0.7" stroke-linejoin="round"/><polygon points="655.5,1419.2 661.5,1417.0 667.5,1430.5 675.0,1439.5 688.5,1447.7 684.7,1452.2 687.7,1462.0 677.2,1468.0 681.0,1456.0 675.0,1453.0 664.5,1463.5 660.0,1463.5 664.5,1456.0 667.5,1441.7 665.2,1435.0 656.2,1427.5" fill="#e82e12" stroke="#e82e12" stroke-width="0.7" stroke-linejoin="round"/><polygon points="702.2,1455.0 745.0,1491.7 740.5,1497.7 744.7,1507.5 715.0,1512.0 702.2,1518.0 685.0,1521.0 675.2,1518.0 684.2,1513.5 691.7,1503.7 694.7,1494.7 699.2,1486.5 710.5,1491.0 714.2,1485.0 715.0,1470.0 706.0,1458.0" fill="#e82e12" stroke="#e82e12" stroke-width="0.7" stroke-linejoin="round"/><polyline points="231.5,1483.0 232.7,1491.0 246.3,1493.8 253.1,1501.9 251.3,1508.1 266.3,1494.0 277.3,1497.5 275.6,1521.9 271.3,1525.6 268.1,1539.4 276.9,1545.0 278.1,1557.5 273.8,1560.6" fill="none" stroke="#fff" stroke-width="3.3" stroke-linejoin="round" stroke-linecap="round"/><polyline points="273.8,1560.6 260.0,1553.8 253.1,1560.6 251.3,1564.4 220.0,1566.9 216.9,1587.5 210.0,1593.5 202.7,1593.9 183.5,1602.6 174.8,1604.0 186.3,1612.2 182.6,1615.9 178.0,1625.0 165.2,1623.2 163.4,1628.7 151.5,1633.7 147.8,1630.5 142.3,1622.3 135.9,1624.1 124.0,1621.4 118.6,1611.3 112.5,1608.8" fill="none" stroke="#fff" stroke-width="3.3" stroke-linejoin="round" stroke-linecap="round"/><polyline points="386.3,1705.0 375.0,1690.0 381.3,1683.8 378.8,1670.0 385.0,1656.3 377.5,1645.0 376.2,1626.2" fill="none" stroke="#fff" stroke-width="3.3" stroke-linejoin="round" stroke-linecap="round"/><polyline points="376.2,1626.2 361.2,1615.5 355.2,1606.5 340.2,1604.2 330.5,1600.5 326.0,1590.0 321.5,1581.7 318.5,1575.7 312.5,1575.0 309.5,1572.0 285.5,1569.0 278.0,1562.2 273.8,1560.6" fill="none" stroke="#fff" stroke-width="3.3" stroke-linejoin="round" stroke-linecap="round"/><polyline points="368.7,1397.2 372.5,1404.7 381.5,1416.0 380.7,1422.7 385.2,1429.5 389.7,1443.7 396.5,1440.7 401.7,1448.2 423.5,1453.5 428.0,1458.0 431.7,1455.0 454.2,1475.2 461.0,1471.5 470.7,1482.0" fill="none" stroke="#fff" stroke-width="3.3" stroke-linejoin="round" stroke-linecap="round"/><polyline points="470.7,1482.0 467.0,1494.0 473.0,1503.0 464.0,1515.0 471.5,1521.7 462.5,1525.5 459.5,1540.5 452.7,1543.5 452.0,1551.0 443.0,1558.5 440.0,1567.5 442.2,1576.5 440.7,1585.5 446.7,1593.0 440.7,1600.5 431.0,1596.0 416.0,1596.0 410.0,1584.0 403.2,1587.0 402.5,1593.0 395.0,1596.0 398.0,1605.0 397.2,1614.0 400.2,1623.0 376.2,1626.2" fill="none" stroke="#fff" stroke-width="3.3" stroke-linejoin="round" stroke-linecap="round"/><polyline points="565.7,1416.2 562.0,1431.2 548.5,1436.8 551.5,1445.5 557.5,1447.0 560.5,1453.7 555.2,1456.0 550.0,1462.0 541.0,1465.0 533.5,1469.5 527.5,1465.0 508.0,1474.7" fill="none" stroke="#fff" stroke-width="3.3" stroke-linejoin="round" stroke-linecap="round"/><polyline points="508.0,1474.7 503.5,1474.0 496.0,1480.0 484.0,1486.0 470.7,1482.0" fill="none" stroke="#fff" stroke-width="3.3" stroke-linejoin="round" stroke-linecap="round"/><polyline points="650.5,1628.2 658.0,1626.0 653.5,1608.0 650.5,1606.5 664.0,1597.5 652.0,1587.0 655.0,1582.5 670.0,1575.0 650.5,1572.0 642.5,1571.0 620.0,1574.0 611.0,1559.7 590.0,1555.2 585.5,1557.5 579.5,1544.0 556.2,1545.5 549.5,1535.0 547.2,1526.0 551.7,1517.7 549.5,1508.0 533.0,1505.7 524.0,1498.2 512.7,1490.0 508.0,1474.7" fill="none" stroke="#fff" stroke-width="3.3" stroke-linejoin="round" stroke-linecap="round"/><polygon points="183.5,1603.1 202.7,1593.9 212.8,1594.9 217.4,1612.2 214.6,1623.2 208.2,1626.0 211.9,1636.0 197.2,1638.8 194.4,1630.0 192.7,1621.4 196.3,1617.7" fill="none" stroke="#fff" stroke-width="3.3" stroke-linejoin="round" stroke-linecap="round"/><polyline points="361.2,1407.0 365.0,1417.5 348.5,1428.0 345.5,1446.0 347.0,1459.5 342.5,1464.7 329.7,1467.7 323.0,1455.0 320.7,1446.7 316.2,1444.5 319.2,1440.0 317.0,1431.7" fill="none" stroke="#fff" stroke-width="3.3" stroke-linejoin="round" stroke-linecap="round"/><circle cx="691" cy="1477.5" r="3" fill="#e82e12"/><path d="M691 1480 L694 1494" stroke="#e82e12" stroke-width="1.6"/><g stroke="#e82e12" stroke-width="1.2" fill="none" opacity="0.75"><path d="M541.7 1275.2 L537.2 1285.7"/><path d="M525.2 1280.2 L524.2 1282.2"/><path d="M521.8 1297 L521.2 1301.5"/><path d="M586 1285 Q589 1289.5 593.4 1289"/></g></svg>
<div class="t" style="left:439.96px;top:1376.41px;font-size:47.00px;font-weight:700;color:#000;transform:scaleX(0.928);transform-origin:center;">53,4</div>
<div class="t" style="left:435.72px;top:1417.06px;font-size:16.70px;color:#000;">Vorpommern-</div>
<div class="t" style="left:462.69px;top:1437.46px;font-size:16.70px;color:#000;">Rügen</div>
<div class="t" style="left:336.36px;top:1440.21px;font-size:47.00px;font-weight:700;color:#000;transform:scaleX(0.928);transform-origin:center;">25,3</div>
<div class="t" style="left:353.64px;top:1481.26px;font-size:16.70px;color:#000;">Rostock</div>
<div class="t" style="left:326.06px;top:1505.11px;font-size:47.00px;font-weight:700;color:#000;transform:scaleX(0.928);transform-origin:center;">42,2</div>
<div class="t" style="left:334.19px;top:1548.86px;font-size:16.70px;color:#000;">Landkreis</div>
<div class="t" style="left:340.54px;top:1569.56px;font-size:16.70px;color:#000;">Rostock</div>
<div class="t" style="left:566.56px;top:1462.21px;font-size:47.00px;font-weight:700;color:#000;transform:scaleX(0.928);transform-origin:center;">68,8</div>
<div class="t" style="left:565.42px;top:1504.86px;font-size:16.70px;color:#000;">Vorpommern-</div>
<div class="t" style="left:575.36px;top:1525.16px;font-size:16.70px;color:#000;">Greif<span style="margin-left:2px">swald</span></div>
<div class="t" style="left:104.86px;top:1505.11px;font-size:47.00px;font-weight:700;color:#000;transform:scaleX(0.928);transform-origin:center;">32,4</div>
<div class="t" style="left:115.35px;top:1549.76px;font-size:16.70px;color:#000;">Nordwest-</div>
<div class="t" style="left:105.60px;top:1569.66px;font-size:16.70px;color:#000;">mecklenburg</div>
<div class="t" style="left:217.06px;top:1585.51px;font-size:47.00px;font-weight:700;color:#000;transform:scaleX(0.928);transform-origin:center;">51,2</div>
<div class="t" style="left:223.06px;top:1628.46px;font-size:16.70px;color:#000;">Schwerin</div>
<div class="t" style="left:143.66px;top:1652.81px;font-size:47.00px;font-weight:700;color:#000;transform:scaleX(0.928);transform-origin:center;">59,5</div>
<div class="t" style="left:139.59px;top:1696.86px;font-size:16.70px;color:#000;">Ludwigslust-</div>
<div class="t" style="left:154.78px;top:1717.56px;font-size:16.70px;color:#000;">Parchim</div>
<div class="t" style="left:475.16px;top:1597.71px;font-size:47.00px;font-weight:700;color:#000;transform:scaleX(0.928);transform-origin:center;">25,6</div>
<div class="t" style="left:455.50px;top:1639.76px;font-size:16.70px;color:#000;">Mecklenburgische</div>
<div class="t" style="left:482.87px;top:1660.66px;font-size:16.70px;color:#000;">Seenplatte</div>
<div style="position:absolute;left:0.00px;top:1840.00px;width:2024.00px;height:90.00px;background:linear-gradient(to bottom,rgba(0,0,0,0) 0%,rgba(0,0,0,0.008) 30%,rgba(0,0,0,0.028) 65%,rgba(0,0,0,0.062) 100%);"></div>
</body></html>
